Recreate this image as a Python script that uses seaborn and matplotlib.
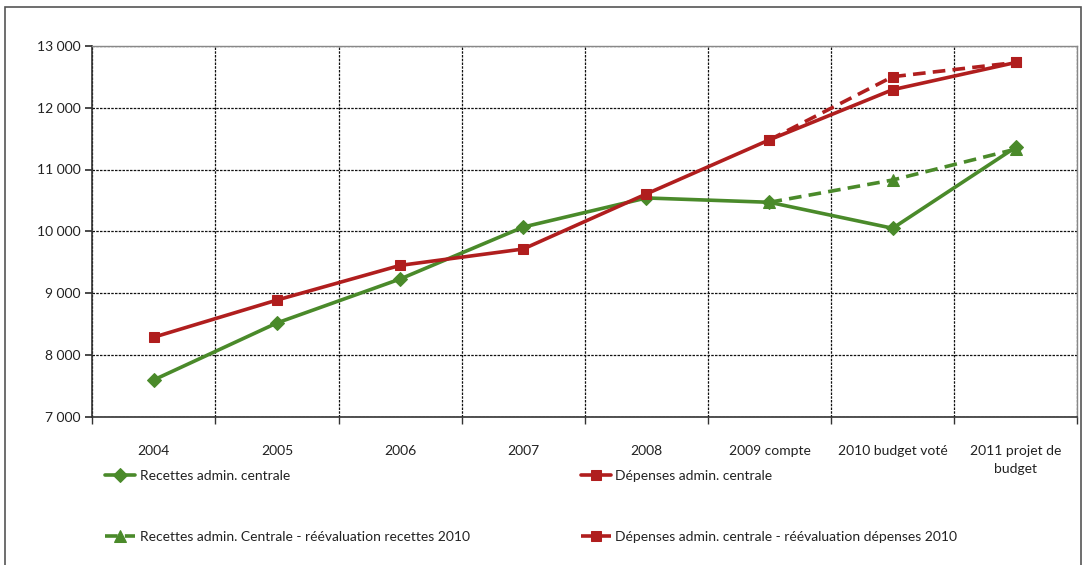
import numpy as np
import pandas as pd
import matplotlib.pyplot as plt
import seaborn as sns
from matplotlib.ticker import FuncFormatter, FixedLocator

# Données
categories = ["2004", "2005", "2006", "2007", "2008", "2009 compte",
              "2010 budget voté", "2011 projet de\nbudget"]
recettes = [7600, 8520, 9230, 10070, 10540, 10470, 10050, 11360]
depenses = [8290, 8890, 9450, 9715, 10605, 11480, 12290, 12730]
recettes_reeval = [10470, 10830, 11330]
depenses_reeval = [11480, 12500, 12730]

green = "#4a8a2a"
red = "#b01e1e"

sns.set_theme(style="white")
plt.rcParams["font.family"] = ["Lato", "DejaVu Sans"]

pos = np.arange(len(categories))
fig = plt.figure(figsize=(10.86, 5.65), dpi=100)
ax = fig.add_axes([0.085, 0.262, 0.907, 0.657])

# ordre: recettes, recettes réévaluées, dépenses, dépenses réévaluées (colonnes de la légende)
sns.lineplot(x=pos, y=recettes, ax=ax, color=green, lw=2.6, marker="D",
             markersize=7, markeredgecolor=green, label="Recettes admin. centrale")
sns.lineplot(x=pos[-3:], y=recettes_reeval, ax=ax, color=green, lw=2.6,
             marker="^", markersize=8, markeredgecolor=green, dashes=(3.5, 2),
             label="Recettes admin. Centrale - réévaluation recettes 2010")
sns.lineplot(x=pos, y=depenses, ax=ax, color=red, lw=2.6, marker="s",
             markersize=7, markeredgecolor=red, label="Dépenses admin. centrale")
sns.lineplot(x=pos[-3:], y=depenses_reeval, ax=ax, color=red, lw=2.6,
             marker="s", markersize=7, markeredgecolor=red, dashes=(3.5, 2),
             label="Dépenses admin. centrale - réévaluation dépenses 2010")

ax.set_xlim(-0.5, len(categories) - 0.5)
ax.set_ylim(7000, 13000)
ax.set_yticks(range(7000, 13001, 1000))
ax.yaxis.set_major_formatter(FuncFormatter(lambda v, p: f"{int(v):,}".replace(",", " ")))
ax.set_xticks(pos)
ax.set_xticklabels(categories, fontsize=10, color="#222222", linespacing=1.6)
ax.xaxis.set_minor_locator(FixedLocator(np.arange(-0.5, len(categories), 1)))
ax.tick_params(axis="x", which="major", length=0, pad=20)
ax.tick_params(axis="x", which="minor", length=5, color="#333333", direction="out", bottom=True)
ax.tick_params(axis="y", length=5, color="#333333", direction="out", left=True,
               labelsize=10, labelcolor="#222222")

ax.grid(True, axis="y", which="major", color="#111111", ls=(0, (2, 1)), lw=0.9)
ax.grid(True, axis="x", which="minor", color="#111111", ls=(0, (2, 1)), lw=0.9)
ax.grid(False, axis="x", which="major")
ax.set_axisbelow(True)

for side in ["left", "bottom"]:
    ax.spines[side].set_color("#333333")
    ax.spines[side].set_linewidth(1.2)
for side in ["top", "right"]:
    ax.spines[side].set_color("#888888")
    ax.spines[side].set_linewidth(1.0)

leg = ax.legend(loc="upper left", bbox_to_anchor=(0.0, -0.11), ncol=2,
                frameon=False, fontsize=10, handlelength=2.2,
                columnspacing=8, labelspacing=3.5, handletextpad=0.3)
for t in leg.get_texts():
    t.set_color("#222222")

# cadre extérieur
fig.patches.append(plt.Rectangle((0.005, -0.01), 0.99, 0.997, transform=fig.transFigure,
                                 fill=False, ec="#555555", lw=1.2))

fig.savefig("out.png", dpi=100)
